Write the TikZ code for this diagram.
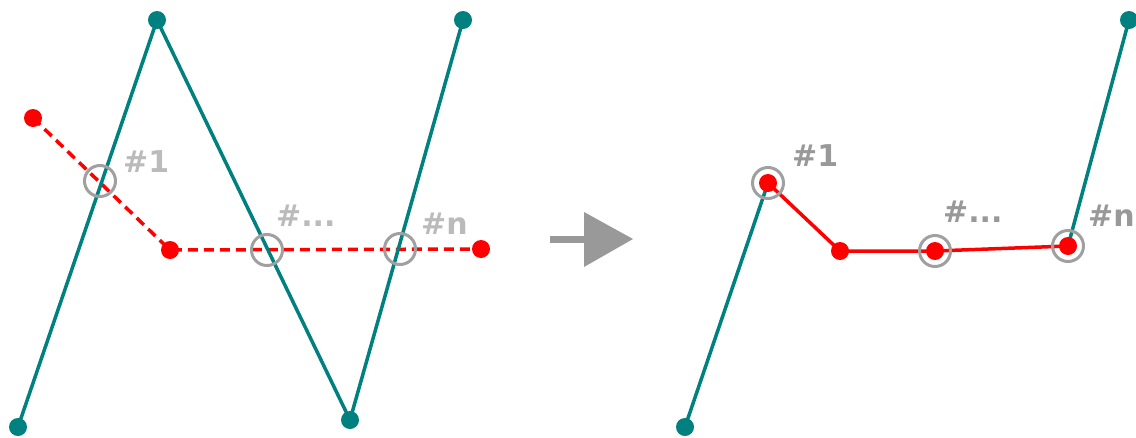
\documentclass[tikz,border=0pt]{standalone}
\usepackage{fontspec}
\setmainfont{DejaVu Sans}
\definecolor{tealc}{HTML}{00807F}
\definecolor{redc}{HTML}{FF0000}
\definecolor{ringc}{HTML}{A0A0A0}
\definecolor{lablight}{HTML}{BBBBBB}
\definecolor{labdark}{HTML}{999999}
\tikzset{
  tdot/.style={circle,fill=tealc,inner sep=0pt,minimum size=18pt},
  rdot/.style={circle,fill=redc,inner sep=0pt,minimum size=18pt},
  ring/.style={circle,draw=ringc,line width=3pt,inner sep=0pt,minimum size=31pt},
  tline/.style={tealc,line width=3.5pt},
  rdash/.style={redc,line width=3.5pt,dash pattern=on 10pt off 6pt},
  rline/.style={redc,line width=3.5pt},
  lab/.style={anchor=base west,inner sep=0pt,font=\bfseries\fontsize{30}{36}\selectfont},
}
\begin{document}
\begin{tikzpicture}[x=1pt,y=-1pt]
\useasboundingbox (0,0) rectangle (1136,437);
% left
\coordinate (a1) at (18,427);
\coordinate (a2) at (157,20);
\coordinate (a3) at (350,420);
\coordinate (a4) at (463,20);
\coordinate (b1) at (33,118);
\coordinate (b2) at (170,250);
\coordinate (b3) at (481,249);
\draw[rdash] (b1) -- (b2) -- (b3);
\draw[tline,line join=round] (a1) -- (a2) -- (a3) -- (a4);
\foreach \p in {a1,a2,a3,a4} \node[tdot] (d\p) at (\p) {};
\foreach \p in {b1,b2,b3} \node[rdot] (d\p) at (\p) {};
\node[ring] (r1) at (100,181) {};
\node[ring] (r2) at (267,250) {};
\node[ring] (r3) at (400,249) {};
\node[lab,text=lablight] (l1) at (123,172) {\#1};
\node[lab,text=lablight] (l2) at (276,226) {\#...};
\node[lab,text=lablight] (l3) at (421,234) {\#n};
% arrow
\coordinate (s0) at (550,239);
\coordinate (s1) at (588,239);
\draw[labdark,line width=7pt] (s0) -- (s1);
\fill[labdark] (584,212) -- (633,239) -- (584,267) -- cycle;
% right
\coordinate (c1) at (685,427);
\coordinate (c2) at (768,183);
\coordinate (c3) at (840,251);
\coordinate (c4) at (935,251);
\coordinate (c5) at (1068,246);
\coordinate (c6) at (1129,20);
\draw[tline] (c1) -- (c2);
\draw[tline] (c5) -- (c6);
\draw[rline,line join=round] (c2) -- (c3) -- (c4) -- (c5);
\node[tdot] (dc1) at (c1) {};
\node[tdot] (dc6) at (c6) {};
\foreach \p in {c2,c3,c4,c5} \node[rdot] (d\p) at (\p) {};
\node[ring] (q1) at (c2) {};
\node[ring] (q2) at (c4) {};
\node[ring] (q3) at (c5) {};
\node[lab,text=labdark] (m1) at (792,166) {\#1};
\node[lab,text=labdark] (m2) at (943,222) {\#...};
\node[lab,text=labdark] (m3) at (1088,226) {\#n};
\end{tikzpicture}
\end{document}
